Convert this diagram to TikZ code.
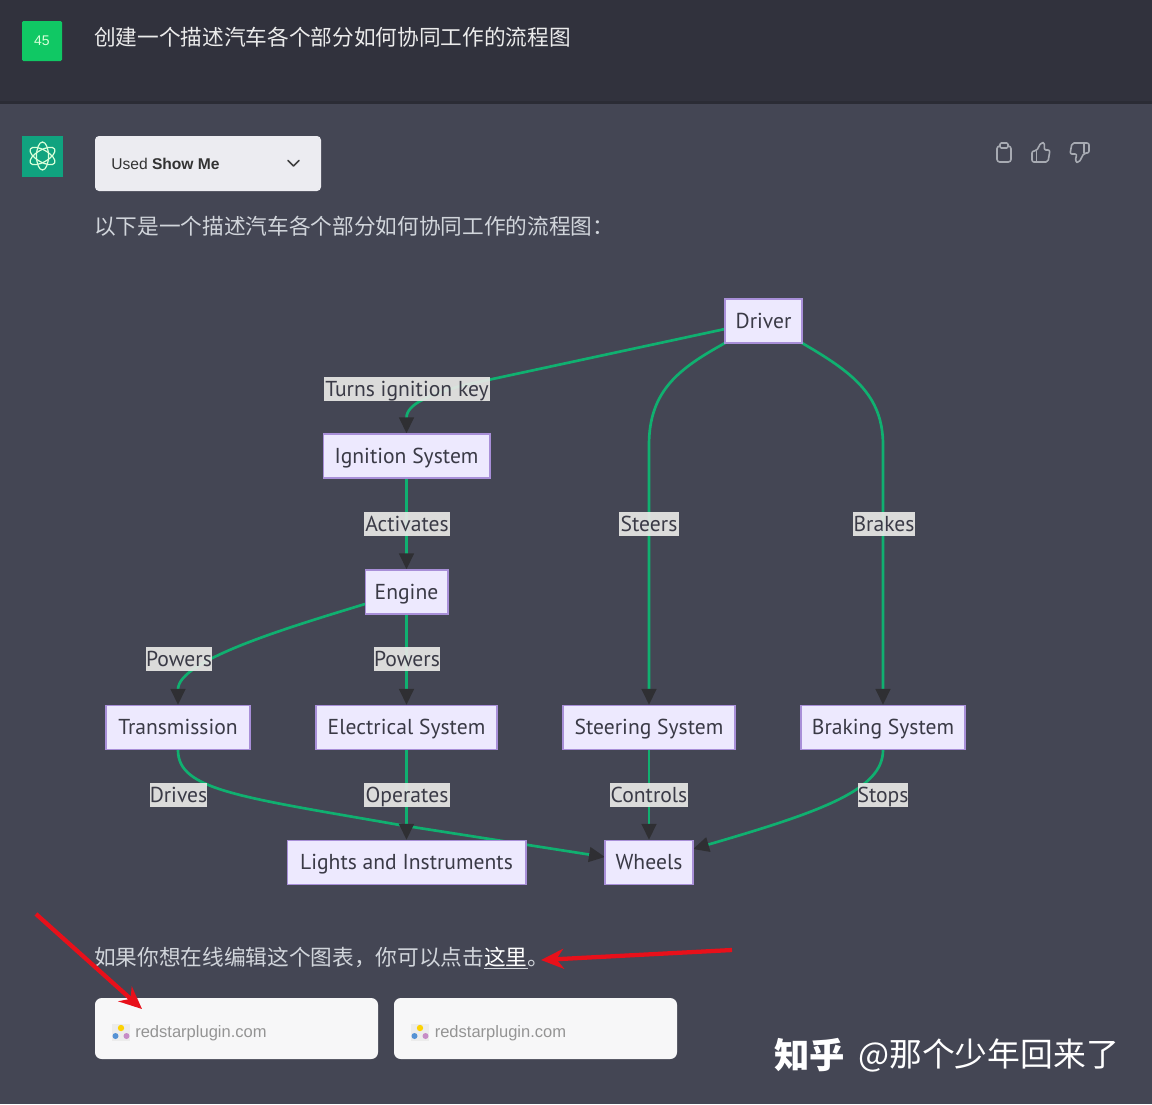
\documentclass[tikz,border=0pt]{standalone}
\usepackage{fontspec}
\setmainfont{PT Sans}
\newfontfamily\cjk{Noto Sans CJK SC}
\newfontfamily\uifont{Liberation Sans}
\usetikzlibrary{arrows.meta,backgrounds}
\pgfdeclarelayer{pagelayer}
\pgfdeclarelayer{edgelayer}
\pgfsetlayers{pagelayer,edgelayer,main}
\definecolor{pagebg}{HTML}{444654}
\definecolor{topbg}{HTML}{31323D}
\definecolor{sepc}{HTML}{2B2C35}
\definecolor{flowgreen}{HTML}{10B070}
\definecolor{tipc}{HTML}{2F2F33}
\definecolor{nodefill}{HTML}{EDE9FE}
\definecolor{nodeline}{HTML}{A88FD8}
\definecolor{labelfill}{HTML}{E8E8E6}
\definecolor{nodetext}{HTML}{3A3A46}
\definecolor{bodytext}{HTML}{D1D5DB}
\definecolor{redmark}{HTML}{E8101A}
\definecolor{cardfill}{HTML}{F7F7F8}
\newcommand{\fsz}[1]{\fontsize{#1}{#1}\selectfont}
\tikzset{
  x=0.75pt,y=-0.75pt,
  flowbox/.style={draw=nodeline,line width=1pt,fill=nodefill,inner sep=0pt,text=nodetext,font=\fsz{16.2},minimum height=33pt,text height=12.5pt,text depth=1.3pt},
  flowlabel/.style={fill=labelfill,fill opacity=0.92,text opacity=1,inner sep=0pt,text=nodetext,font=\fsz{16.2},minimum height=18pt,text height=12.5pt,text depth=1.3pt},
  flowedge/.style={draw=flowgreen,line width=2pt,-{Triangle[length=12pt,width=11pt,color=tipc,fill=tipc]}},
  redarrow/.style={draw=redmark,line width=3.2pt,-{Stealth[length=17pt,width=15pt]}},
  iconline/.style={draw=bodytext!70!pagebg,line width=1.2pt,line join=round,line cap=round},
  cardbox/.style={fill=cardfill,draw=none,rounded corners=5pt,minimum height=45.75pt,inner sep=0pt},
  cjktext/.style={inner sep=0pt,anchor=west,font=\cjk\fsz{16.25}},
  cardtext/.style={inner sep=0pt,anchor=west,text=black!42,font=\uifont\fsz{12.4}},
}
\begin{document}
\begin{tikzpicture}
\useasboundingbox (0,0) rectangle (1152,1104);
\begin{pgfonlayer}{pagelayer}
  \fill[pagebg] (0,0) rectangle (1152,1104);
  \fill[topbg] (0,0) rectangle (1152,102);
  \fill[sepc] (0,101) rectangle (1152,104);
\end{pgfonlayer}

% header
\node[fill={rgb,255:red,16;green,200;blue,100},rounded corners=1pt,minimum width=30pt,minimum height=30pt,inner sep=0pt,text=white!85!green,font=\uifont\fsz{10.5}] (avatar) at (42,41) {45};
\node[cjktext,text=white!92!black] (question) at (94,37.5) {创建一个描述汽车各个部分如何协同工作的流程图};

\node[fill={rgb,255:red,16;green,163;blue,127},minimum width=30.75pt,minimum height=30.75pt,inner sep=0pt] (logo) at (42.5,156) {};
\foreach \r in {30,90,150}{
  \draw[white!85!green,line width=0.9pt,rotate around={\r:(42.5,156)}] (42.5,156) ellipse [x radius=14,y radius=6];
}
\node[fill={rgb,255:red,236;green,236;blue,241},rounded corners=3pt,minimum width=169.5pt,minimum height=41.25pt,inner sep=0pt] (usedbox) at (208,163.5) {};
\node[inner sep=0pt,anchor=west,text=black!80,font=\uifont\fsz{11.7}] (usedtext) at (111,163.5) {Used \textbf{Show Me}};
\coordinate (chevA) at (288,160.5);
\coordinate (chevB) at (293.5,166);
\coordinate (chevC) at (299,160.5);
\draw[black!75,line width=1.2pt,line cap=round,line join=round] (chevA) -- (chevB) -- (chevC);
\node[cjktext,text=bodytext] (intro) at (94,226.5) {以下是一个描述汽车各个部分如何协同工作的流程图：};

% icons
\draw[iconline,rounded corners=2pt] (997,146) rectangle (1011,162);
\draw[iconline,fill=pagebg,rounded corners=1pt] (1000,143) rectangle (1008,148);
\draw[iconline,rounded corners=1.5pt] (1032,151) -- (1036.5,151) -- (1041,142.5) .. controls (1044,142.5) and (1045,145) .. (1044,150) -- (1050,150) -- (1048,162) -- (1032,162) -- cycle;
\draw[iconline] (1036.5,151) -- (1036.5,162);
\draw[iconline,rounded corners=1.5pt] (1089,153) -- (1084,153) -- (1079,162.5) .. controls (1076,162.5) and (1075,160) .. (1077,154) -- (1070,154) -- (1072,143) -- (1089,143) -- cycle;
\draw[iconline] (1084,153) -- (1084,143);

% flowchart nodes
\node[flowbox,minimum width=57.75pt] (driver) at (763.5,321) {Driver};
\node[flowbox,minimum width=125pt] (ignition) at (406.5,456) {Ignition System};
\node[flowbox,minimum width=62pt] (engine) at (406.5,592) {Engine};
\node[flowbox,minimum width=108pt] (transmission) at (178,727.5) {Transmission};
\node[flowbox,minimum width=135.75pt] (electrical) at (406.5,727.5) {Electrical System};
\node[flowbox,minimum width=129pt] (steering) at (649,727.5) {Steering System};
\node[flowbox,minimum width=123pt] (braking) at (883,727.5) {Braking System};
\node[flowbox,minimum width=179pt] (lights) at (406.5,862.5) {Lights and Instruments};
\node[flowbox,minimum width=66pt] (wheels) at (649,862.5) {Wheels};

% flowchart labels
\node[flowlabel,minimum width=124.5pt] (lkey) at (407,389) {Turns ignition key};
\node[flowlabel,minimum width=64.5pt] (lact) at (407,524) {Activates};
\node[flowlabel,minimum width=45pt] (lsteer) at (649,524) {Steers};
\node[flowlabel,minimum width=46.5pt] (lbrake) at (884,524) {Brakes};
\node[flowlabel,minimum width=49.5pt] (lpow1) at (179,659) {Powers};
\node[flowlabel,minimum width=49.5pt] (lpow2) at (407,659) {Powers};
\node[flowlabel,minimum width=42.75pt] (ldrive) at (178.5,795) {Drives};
\node[flowlabel,minimum width=64.5pt] (lop) at (407,795) {Operates};
\node[flowlabel,minimum width=58.5pt] (lctrl) at (649,795) {Controls};
\node[flowlabel,minimum width=37.5pt] (lstop) at (883,795) {Stops};

% connectors
\begin{pgfonlayer}{edgelayer}
  \coordinate (driverA) at (725,329);
  \coordinate (driverB) at (725,343);
  \coordinate (driverC) at (802,343);
  \coordinate (engineA) at (365,604);
  \coordinate (wheelsA) at (605,857);
  \coordinate (wheelsB) at (693,849);
  \draw[flowedge] (driverA) -- (460,386) .. controls (432,395) and (406.5,403) .. (ignition.north);
  \draw[flowedge] (ignition.south) -- (engine.north);
  \draw[flowedge] (driverB) .. controls (680,368) and (649,390) .. (649,445) -- (steering.north);
  \draw[flowedge] (driverC) .. controls (852,372) and (883,395) .. (883,445) -- (braking.north);
  \draw[flowedge] (engineA) .. controls (290,627) and (178,660) .. (transmission.north);
  \draw[flowedge] (engine.south) -- (electrical.north);
  \draw[flowedge] (transmission.south) .. controls (178,790) and (240,797) .. (400,825) -- (wheelsA);
  \draw[flowedge] (electrical.south) -- (lights.north);
  \draw[flowedge] (steering.south) -- (wheels.north);
  \draw[flowedge] (braking.south) .. controls (883,790) and (820,812) .. (wheelsB);
\end{pgfonlayer}

% closing text and cards
\node[cjktext,text=bodytext] (closing) at (94,958) {如果你想在线编辑这个图表，你可以点击\underline{\textcolor{white}{这里}}。};
\node[cardbox,minimum width=212.25pt] (card1) at (236.5,1028.5) {};
\node[cardbox,minimum width=212.25pt] (card2) at (535.5,1028.5) {};
\foreach \cx in {121,420}{
  \fill[white!85!gray] (\cx-9,1024) rectangle (\cx+9,1041);
  \fill[yellow!70!orange] (\cx,1028) circle [radius=3.2];
  \fill[cyan!55!blue!70] (\cx-5.5,1036) circle [radius=3];
  \fill[violet!45] (\cx+5.5,1036) circle [radius=3];
}
\node[cardtext] (url1) at (135,1033.5) {redstarplugin.com};
\node[cardtext] (url2) at (434.5,1033.5) {redstarplugin.com};

% annotation arrows
\coordinate (redA) at (36,914);
\coordinate (redB) at (142,1009);
\coordinate (redC) at (732,950);
\coordinate (redD) at (541,960);
\draw[redarrow] (redA) -- (redB);
\draw[redarrow] (redC) -- (redD);

% watermark
\node[inner sep=0pt,anchor=west,text=white,font=\cjk\bfseries\fsz{26.5}] (wm1) at (774,1055) {知乎};
\node[inner sep=0pt,anchor=west,text=white,font=\cjk\fsz{24.6}] (wm2) at (858,1055) {@那个少年回来了};
\end{tikzpicture}
\end{document}
